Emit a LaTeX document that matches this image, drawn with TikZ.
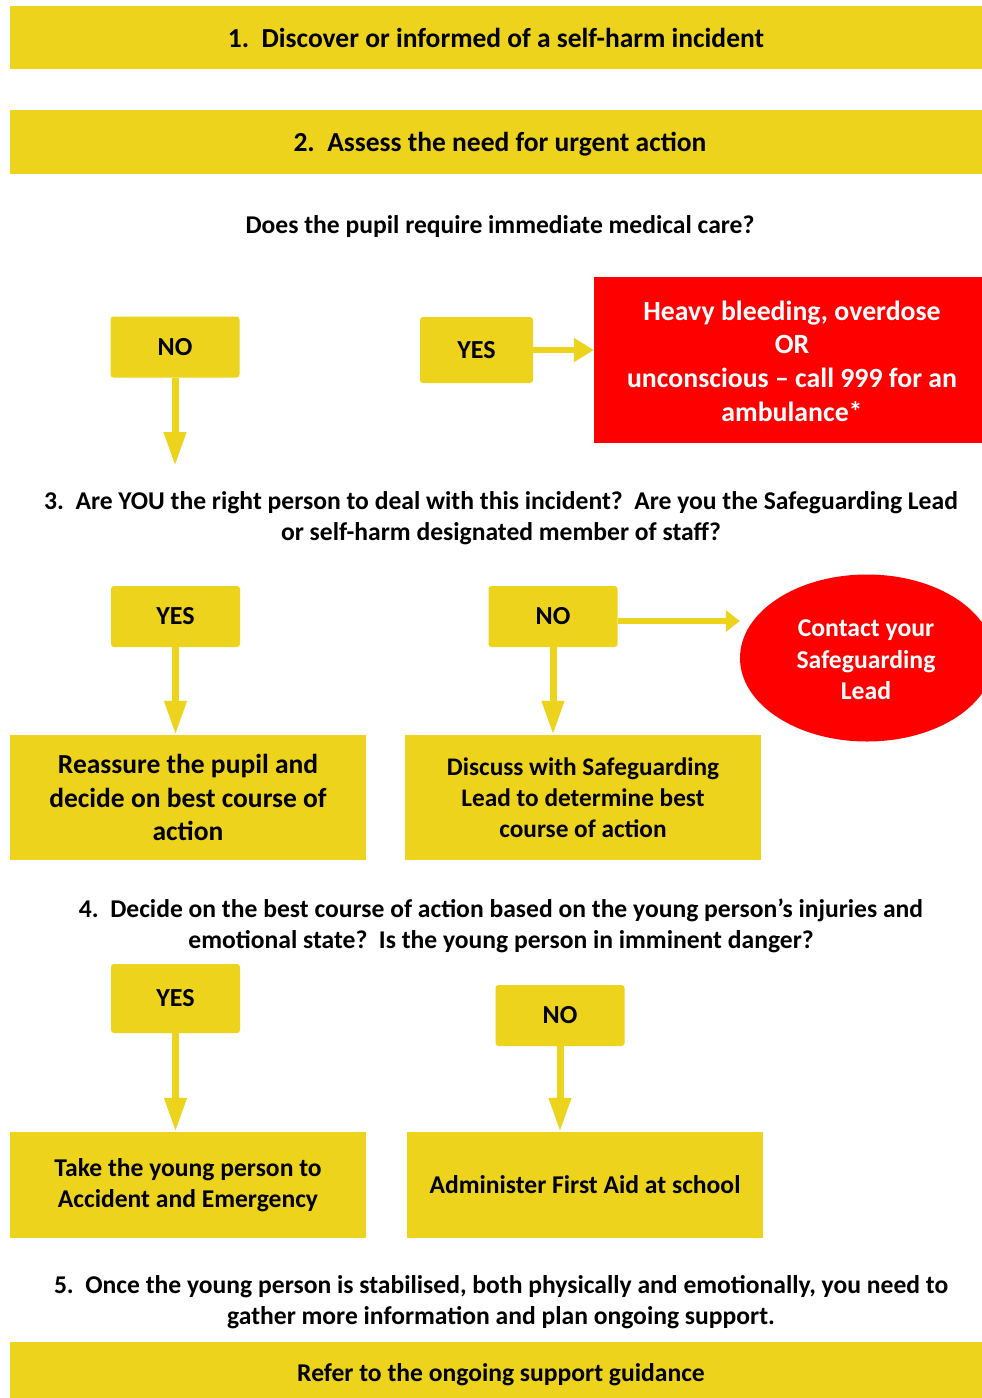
\documentclass[tikz,border=0pt]{standalone}
\usepackage{fontspec}
\setmainfont{Carlito}
\usetikzlibrary{shapes.geometric,arrows.meta}
\definecolor{ybox}{RGB}{237,211,27}
\definecolor{rbox}{RGB}{255,0,0}
\tikzset{
  band/.style={fill=ybox, inner sep=0pt, minimum width=972pt, font=\bfseries\fontsize{27.5}{30}\selectfont},
  ans/.style={fill=ybox, rounded corners=3pt, inner sep=0pt, minimum width=129pt, minimum height=61pt, font=\bfseries\fontsize{26}{28}\selectfont},
  actbox/.style={fill=ybox, inner sep=0pt, minimum width=356pt, align=center, font=\bfseries\fontsize{27.5}{33.5}\selectfont},
  qtext/.style={align=center, inner sep=0pt, font=\bfseries\fontsize{25.6}{31.5}\selectfont},
  redtext/.style={text=white, align=center, inner sep=0pt, font=\bfseries\fontsize{27.8}{33.7}\selectfont},
  varrow/.style={draw=ybox, line width=7pt, -{Triangle[width=21pt,length=34pt]}},
  harrow/.style={draw=ybox, line width=6pt, -{Triangle[width=23pt,length=20pt]}},
}
\begin{document}
\begin{tikzpicture}[x=1pt,y=-1pt]
\clip (0,0) rectangle (982,1398);
\fill[white] (0,0) rectangle (982,1398);

\node[band, minimum height=63pt] (s1) at (496,37.5) {1.\ \ Discover or informed of a self-harm incident};
\node[band, minimum height=64pt] (s2) at (496,142) {};
\node[band, fill=none, minimum height=0pt] (s2t) at (500,144) {2.\ \ Assess the need for urgent action};
\node[qtext] (q1) at (500,227) {Does the pupil require immediate medical care?};

\node[ans] (no1) at (175,347) {NO};
\node[ans, minimum width=113pt, minimum height=66pt] (yes1) at (476.5,350) {YES};
\node[fill=rbox, inner sep=0pt, minimum width=388pt, minimum height=166pt] (red1) at (788,360) {};
\node[redtext] (red1t) at (792,361) {Heavy bleeding, overdose\\OR\\unconscious -- call 999 for an\\ambulance*};
\coordinate (no1end) at (175,466);
\draw[varrow] (no1.south) -- (no1end);
\draw[harrow] (yes1.east) -- (red1.west |- yes1.east);

\node[qtext] (q3) at (501,518) {3.\ \ Are YOU the right person to deal with this incident?\ \ Are you the Safeguarding Lead\\or self-harm designated member of staff?};

\node[ans] (yes2) at (175.5,616.5) {YES};
\node[ans] (no2) at (553,616.5) {NO};
\node[ellipse, fill=rbox, inner sep=0pt, minimum width=254pt, minimum height=167pt] (contact) at (867,658) {};
\node[redtext, font=\bfseries\fontsize{25.7}{31.5}\selectfont] (contactt) at (866,660) {Contact your\\Safeguarding\\Lead};

\node[actbox, minimum height=125pt] (reassure) at (188,797.5) {Reassure the pupil and\\decide on best course of\\action};
\node[actbox, minimum height=125pt, font=\bfseries\fontsize{25.3}{31}\selectfont] (discuss) at (583,797.5) {Discuss with Safeguarding\\Lead to determine best\\course of action};
\draw[varrow] (yes2.south) -- (reassure.north -| yes2.south);
\draw[varrow] (no2.south) -- (discuss.north -| no2.south);
\draw[harrow, -{Triangle[width=21pt,length=14pt]}] (no2.east |- 0,621) -- (contact.west |- 0,621);

\node[qtext] (q4) at (501,926) {4.\ \ Decide on the best course of action based on the young person’s injuries and\\emotional state?\ \ Is the young person in imminent danger?};

\node[ans, minimum height=69pt] (yes3) at (175.5,998.5) {YES};
\node[ans] (no3) at (560,1015.5) {NO};
\node[actbox, minimum height=106pt, font=\bfseries\fontsize{25.6}{31}\selectfont] (ae) at (188,1185) {Take the young person to\\Accident and Emergency};
\node[actbox, minimum height=106pt, font=\bfseries\fontsize{25.6}{31}\selectfont] (firstaid) at (585,1185) {Administer First Aid at school};
\draw[varrow] (yes3.south) -- (ae.north -| yes3.south);
\draw[varrow] (no3.south) -- (firstaid.north -| no3.south);

\node[qtext] (q5) at (501,1302) {5.\ \ Once the young person is stabilised, both physically and emotionally, you need to\\gather more information and plan ongoing support.};

\node[band, minimum height=56pt] (s6) at (496,1370) {};
\node[qtext] (s6t) at (501,1375) {Refer to the ongoing support guidance};
\end{tikzpicture}
\end{document}
